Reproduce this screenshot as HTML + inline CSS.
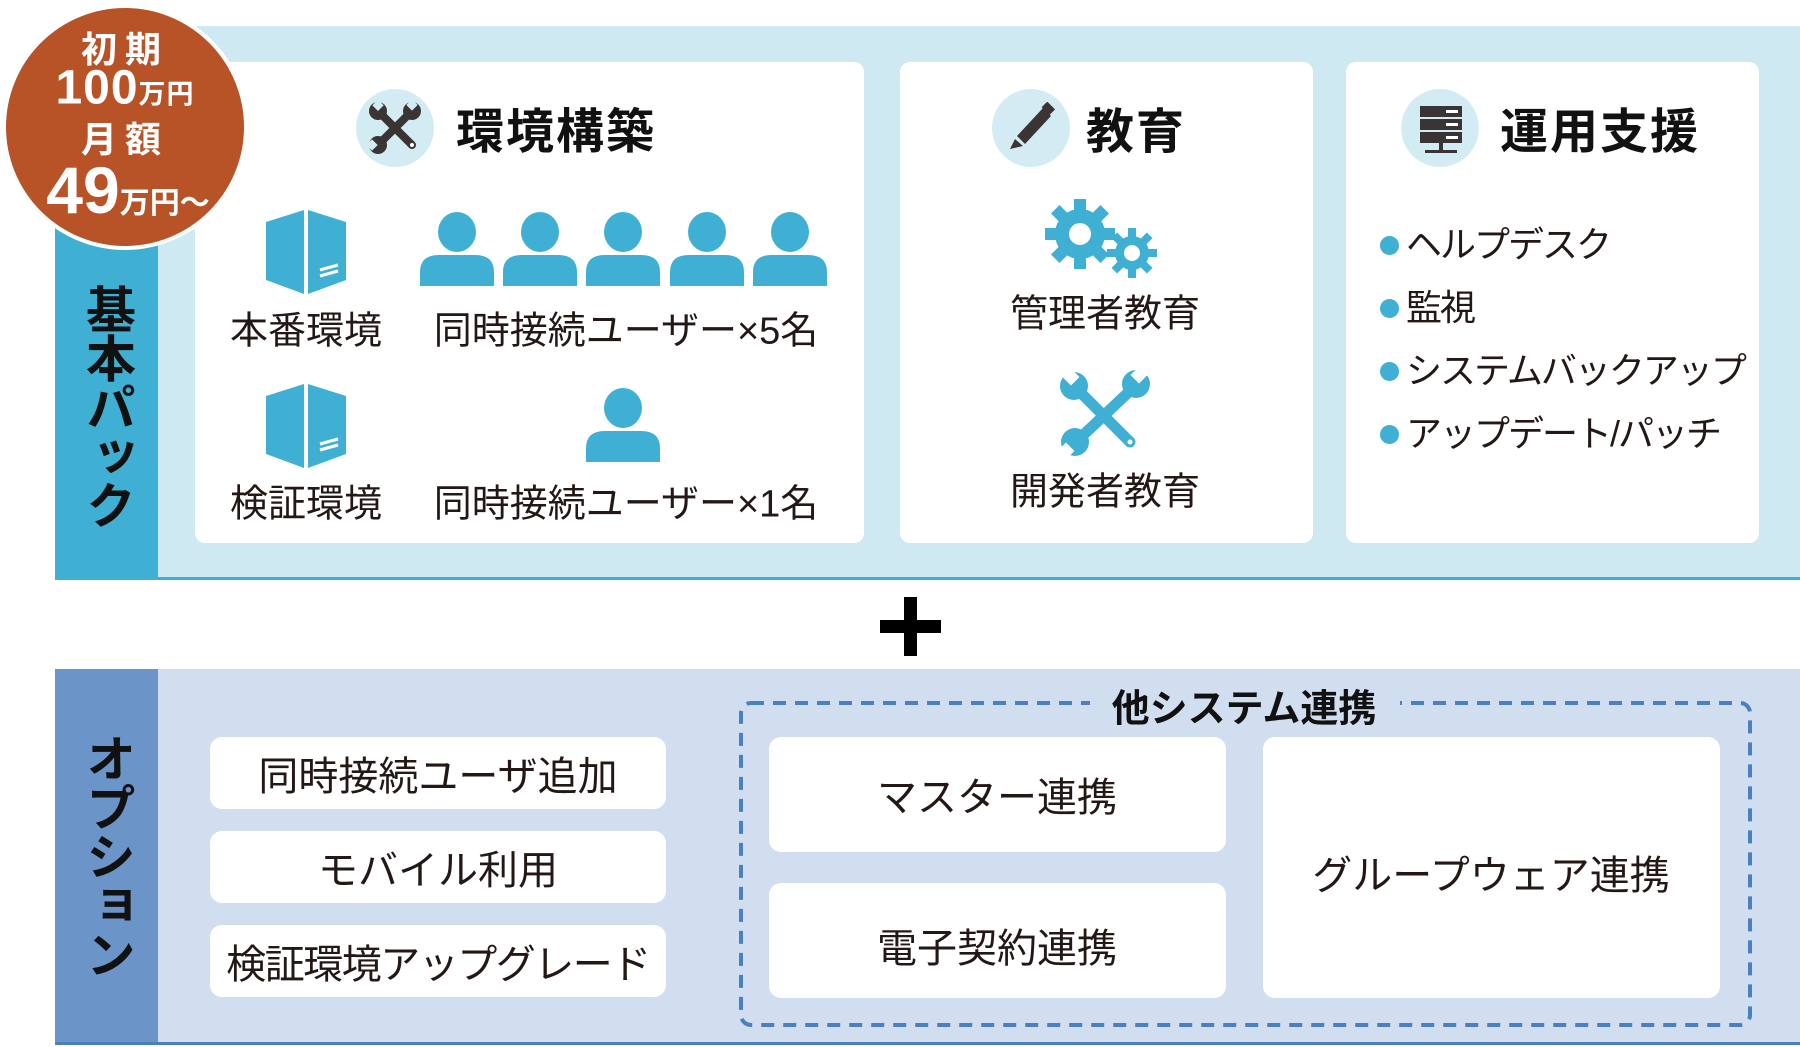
<!DOCTYPE html>
<html><head><meta charset="utf-8"><style>
*{margin:0;padding:0;box-sizing:border-box}
body{width:1800px;height:1047px;background:#fff;position:relative;overflow:hidden;font-family:"Liberation Sans","Noto Sans CJK JP",sans-serif;color:#231815}
.a{position:absolute}
.c{position:absolute;transform:translate(-50%,-50%);white-space:nowrap}
.card{position:absolute;background:#fff;border-radius:10px}
.h{font-weight:bold;font-size:48px;color:#111;letter-spacing:2px}
.t{font-size:38px}
.v{position:absolute;font-weight:bold;font-size:50px;color:#111;writing-mode:vertical-rl;letter-spacing:-1px;line-height:1}
.icirc{position:absolute;width:78px;height:78px;border-radius:50%;background:#d3ecf4}
.ob{position:absolute;background:#fff;border-radius:12px}
.li{font-size:36px;letter-spacing:-2px;white-space:nowrap}
</style></head><body>
<div class="a" style="left:55px;top:26px;width:1745px;height:554px;background:#cfe9f2"></div>
<div class="a" style="left:55px;top:26px;width:103px;height:554px;background:#3fafd4"></div>
<div class="a" style="left:55px;top:577px;width:1745px;height:3px;background:#3fafd4"></div>
<div class="v" style="left:82px;top:284px">基本パック</div>

<div class="card" style="left:195px;top:62px;width:669px;height:481px"></div>
<div class="card" style="left:900px;top:62px;width:413px;height:481px"></div>
<div class="card" style="left:1346px;top:62px;width:413px;height:481px"></div>

<div class="icirc" style="left:356px;top:89px"></div>
<svg class="a" style="left:366px;top:99px" width="58" height="58" viewBox="0 0 58 58">
<g stroke="#3a3534" stroke-width="8" stroke-linecap="round"><line x1="14" y1="14" x2="46" y2="46"/><line x1="46" y1="12" x2="12" y2="46"/></g>
<g fill="#3a3534"><circle cx="12" cy="12" r="9"/><circle cx="46" cy="12" r="9"/><circle cx="12" cy="46" r="9"/></g>
<g fill="#d3ecf4"><rect x="4" y="4" width="8" height="8" transform="rotate(45 12 12)"/><rect x="42" y="2" width="8" height="8" transform="rotate(45 46 6)"/><rect x="2" y="42" width="8" height="8" transform="rotate(45 6 46)"/></g>
<circle cx="46" cy="46" r="2" fill="#fff"/></svg>
<div class="c h" style="left:556px;top:127px">環境構築</div>

<svg class="a" style="left:266px;top:210px" width="82" height="84" viewBox="0 0 82 84"><polygon points="0,12 38,0 38,84 0,70" fill="#3fafd4"/><polygon points="42,0 80,12 80,70 42,84" fill="#3fafd4"/><g stroke="#fff" stroke-width="3"><line x1="54" y1="60" x2="72" y2="55"/><line x1="54" y1="66" x2="72" y2="61"/></g></svg>
<div class="c t" style="left:306px;top:327px">本番環境</div>
<svg class="a" style="left:266px;top:384px" width="82" height="84" viewBox="0 0 82 84"><polygon points="0,12 38,0 38,84 0,70" fill="#3fafd4"/><polygon points="42,0 80,12 80,70 42,84" fill="#3fafd4"/><g stroke="#fff" stroke-width="3"><line x1="54" y1="60" x2="72" y2="55"/><line x1="54" y1="66" x2="72" y2="61"/></g></svg>
<div class="c t" style="left:306px;top:500px">検証環境</div>

<svg class="a" style="left:415px;top:210px" width="420" height="80">
<defs><g id="p"><ellipse cx="0" cy="22" rx="19" ry="20" fill="#3fafd4"/><path d="M-37 76 L-37 62 Q-37 45 -18 45 L18 45 Q37 45 37 62 L37 76Z" fill="#3fafd4"/></g></defs>
<use href="#p" x="42"/><use href="#p" x="125"/><use href="#p" x="208"/><use href="#p" x="292"/><use href="#p" x="375"/></svg>
<div class="c t" style="left:626px;top:327px">同時接続ユーザー×5名</div>
<svg class="a" style="left:581px;top:386px" width="84" height="80"><use href="#p" x="42"/></svg>
<div class="c t" style="left:626px;top:500px">同時接続ユーザー×1名</div>

<div class="icirc" style="left:992px;top:89px"></div>
<svg class="a" style="left:1005px;top:102px" width="52" height="52" viewBox="0 0 52 52"><polygon points="12,34 38,6 46,14 20,42" fill="#3a3534"/><polygon points="10,37 18,44 5,47" fill="#3a3534"/><rect x="38" y="2" width="11" height="8" transform="rotate(45 43 6)" fill="#3a3534"/></svg>
<div class="c h" style="left:1136px;top:127px">教育</div>
<svg class="a" style="left:1045px;top:196px" width="120" height="85" viewBox="0 0 120 85">
<g fill="#3fafd4"><circle cx="35" cy="38" r="25"/>
<g transform="translate(35 38)"><rect x="-6" y="-35" width="12" height="70"/><rect x="-35" y="-6" width="70" height="12"/><rect x="-6" y="-35" width="12" height="70" transform="rotate(45)"/><rect x="-6" y="-35" width="12" height="70" transform="rotate(-45)"/></g>
<circle cx="87" cy="57" r="17"/>
<g transform="translate(87 57)"><rect x="-4" y="-25" width="8" height="50"/><rect x="-25" y="-4" width="50" height="8"/><rect x="-4" y="-25" width="8" height="50" transform="rotate(45)"/><rect x="-4" y="-25" width="8" height="50" transform="rotate(-45)"/></g></g>
<circle cx="35" cy="38" r="11" fill="#fff"/><circle cx="87" cy="57" r="8" fill="#fff"/></svg>
<div class="c t" style="left:1105px;top:310px">管理者教育</div>
<svg class="a" style="left:1058px;top:370px" width="95" height="88" viewBox="0 0 95 88">
<g stroke="#3fafd4" stroke-width="11" stroke-linecap="round"><line x1="20" y1="20" x2="72" y2="72"/><line x1="75" y1="18" x2="20" y2="70"/></g>
<g fill="#3fafd4"><circle cx="16" cy="16" r="14"/><circle cx="78" cy="14" r="14"/><circle cx="17" cy="72" r="14"/></g>
<g fill="#fff"><rect x="7" y="1" width="12" height="12" transform="rotate(45 13 7)"/><rect x="75" y="-1" width="12" height="12" transform="rotate(45 81 5)"/><rect x="2" y="75" width="12" height="12" transform="rotate(45 8 81)"/></g>
<circle cx="72" cy="72" r="2.5" fill="#fff"/></svg>
<div class="c t" style="left:1105px;top:488px">開発者教育</div>

<div class="icirc" style="left:1401px;top:89px"></div>
<svg class="a" style="left:1418px;top:104px" width="46" height="52" viewBox="0 0 46 52"><g fill="#3a3534"><rect x="2" y="2" width="42" height="11"/><rect x="2" y="15" width="42" height="11"/><rect x="2" y="28" width="42" height="11"/><rect x="21" y="39" width="4" height="8"/><rect x="7" y="46" width="32" height="3"/></g><g fill="#fff"><rect x="28" y="6" width="12" height="3"/><rect x="28" y="19" width="12" height="3"/><rect x="28" y="32" width="12" height="3"/></g></svg>
<div class="c h" style="left:1600px;top:127px">運用支援</div>
<div class="a" style="left:1380px;top:236px;width:19px;height:19px;border-radius:50%;background:#3fafd4"></div>
<div class="a" style="left:1380px;top:299px;width:19px;height:19px;border-radius:50%;background:#3fafd4"></div>
<div class="a" style="left:1380px;top:362px;width:19px;height:19px;border-radius:50%;background:#3fafd4"></div>
<div class="a" style="left:1380px;top:425px;width:19px;height:19px;border-radius:50%;background:#3fafd4"></div>
<div class="a li" style="left:1406px;top:220px;line-height:50px">ヘルプデスク</div>
<div class="a li" style="left:1406px;top:283px;line-height:50px">監視</div>
<div class="a li" style="left:1406px;top:346px;line-height:50px">システムバックアップ</div>
<div class="a li" style="left:1406px;top:409px;line-height:50px">アップデート/パッチ</div>

<div class="a" style="left:2px;top:4px;width:246px;height:246px;border-radius:50%;background:#b75327;border:4px solid #fff"></div>
<div class="c" style="left:125px;top:47px;color:#fff;font-weight:bold;font-size:36px;letter-spacing:8px">初期</div>
<div class="c" style="left:125px;top:88px;color:#fff;font-weight:bold;font-size:48px;letter-spacing:1px">100<span style="font-size:27px">万円</span></div>
<div class="c" style="left:125px;top:137px;color:#fff;font-weight:bold;font-size:36px;letter-spacing:8px">月額</div>
<div class="c" style="left:128px;top:190px;color:#fff;font-weight:bold;font-size:66px">49<span style="font-size:30px">万円〜</span></div>

<div class="a" style="left:880px;top:620px;width:61px;height:13px;background:#000"></div>
<div class="a" style="left:904px;top:597px;width:13px;height:59px;background:#000"></div>

<div class="a" style="left:55px;top:669px;width:1745px;height:376px;background:#d1deef"></div>
<div class="a" style="left:55px;top:669px;width:103px;height:376px;background:#6b94c9"></div>
<div class="a" style="left:55px;top:1042px;width:1745px;height:3px;background:#4a7fc0"></div>
<div class="v" style="left:82px;top:733px">オプション</div>

<div class="ob" style="left:210px;top:737px;width:456px;height:72px"></div>
<div class="ob" style="left:210px;top:831px;width:456px;height:72px"></div>
<div class="ob" style="left:210px;top:925px;width:456px;height:72px"></div>
<div class="c t" style="left:438px;top:773px;font-size:40px">同時接続ユーザ追加</div>
<div class="c t" style="left:438px;top:867px;font-size:40px">モバイル利用</div>
<div class="c t" style="left:438px;top:961px;font-size:40px;letter-spacing:-1.5px">検証環境アップグレード</div>

<svg class="a" style="left:0;top:0" width="1800" height="1047"><rect x="741" y="703" width="1009" height="322" rx="10" fill="none" stroke="#4a7fc0" stroke-width="4" stroke-dasharray="13 9"/></svg>
<div class="a" style="left:1090px;top:685px;width:310px;height:40px;background:#d1deef"></div>
<div class="c" style="left:1244px;top:705px;font-weight:bold;font-size:38px;color:#111">他システム連携</div>

<div class="ob" style="left:769px;top:737px;width:457px;height:115px"></div>
<div class="ob" style="left:769px;top:883px;width:457px;height:115px"></div>
<div class="ob" style="left:1263px;top:737px;width:457px;height:261px"></div>
<div class="c t" style="left:997px;top:794px;font-size:40px">マスター連携</div>
<div class="c t" style="left:997px;top:945px;font-size:40px">電子契約連携</div>
<div class="c t" style="left:1491px;top:872px;font-size:40px">グループウェア連携</div>
</body></html>
